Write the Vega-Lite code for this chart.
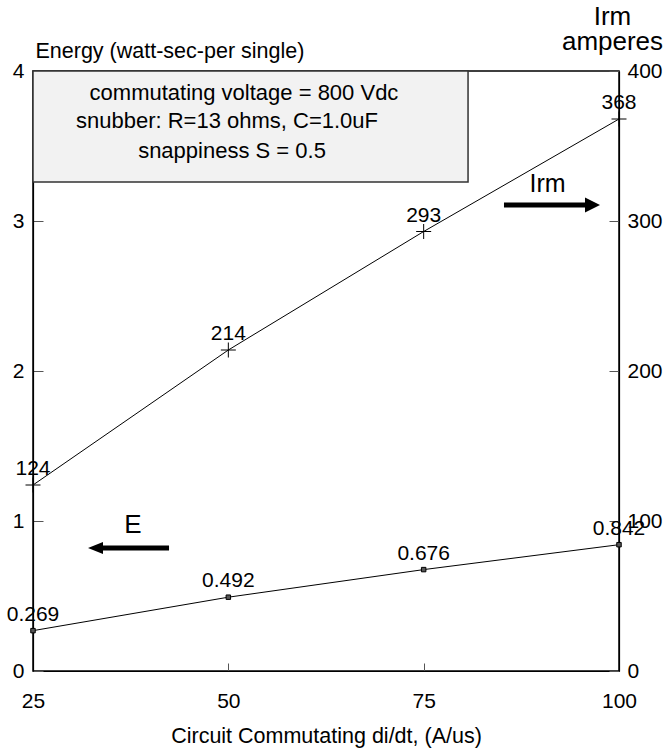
{
  "$schema": "https://vega.github.io/schema/vega-lite/v6.json",
  "width": 586,
  "height": 600,
  "autosize": "none",
  "padding": {"left": 33, "top": 71, "right": 48, "bottom": 81},
  "background": "white",
  "config": {
    "font": "Liberation Sans",
    "view": {"stroke": "#000", "strokeWidth": 1.5},
    "axis": {
      "grid": false,
      "domainColor": "#000",
      "domainWidth": 1.2,
      "tickColor": "#555",
      "labelColor": "#000",
      "titleColor": "#000",
      "labelFont": "Liberation Sans",
      "titleFont": "Liberation Sans",
      "labelFontSize": 21,
      "titleFontWeight": "normal",
      "labelFlush": false,
      "labelOverlap": false
    }
  },
  "datasets": {
    "energy": [
      {"x": 25, "y": 0.269},
      {"x": 50, "y": 0.492},
      {"x": 75, "y": 0.676},
      {"x": 100, "y": 0.842}
    ],
    "irm": [
      {"x": 25, "irm": 124},
      {"x": 50, "irm": 214},
      {"x": 75, "irm": 293},
      {"x": 100, "irm": 368}
    ],
    "notes": [
      {"x": 52.0, "y": 3.807, "text": "commutating voltage = 800 Vdc"},
      {"x": 49.83, "y": 3.62, "text": "snubber: R=13 ohms, C=1.0uF"},
      {"x": 50.47, "y": 3.42, "text": "snappiness S = 0.5"}
    ]
  },
  "encoding": {
    "x": {
      "field": "x",
      "type": "quantitative",
      "scale": {"domain": [25, 100], "nice": false, "zero": false},
      "axis": {
        "orient": "bottom",
        "values": [25, 50, 75, 100],
        "tickSize": -8,
        "labelPadding": 27,
        "title": "Circuit Commutating di/dt, (A/us)",
        "titleFontSize": 21.5,
        "titlePadding": 14
      }
    }
  },
  "layer": [
    {
      "encoding": {
        "y": {
          "field": "y",
          "type": "quantitative",
          "scale": {"domain": [0, 4], "nice": false},
          "axis": {
            "orient": "left",
            "values": [0, 1, 2, 3, 4],
            "tickSize": -10,
            "labelPadding": 19,
            "title": "Energy (watt-sec-per single)",
            "titleFontSize": 21.5,
            "titleAngle": 0,
            "titleAlign": "left",
            "titleBaseline": "alphabetic",
            "titleX": 2,
            "titleY": -14
          }
        }
      },
      "layer": [
        {
          "data": {"values": [{"x": 25, "x2": 80.68, "y": 3.26, "y2": 4}]},
          "mark": {"type": "rect", "fill": "#f2f2f2", "stroke": "#333", "strokeWidth": 1.5},
          "encoding": {"x2": {"field": "x2"}, "y2": {"field": "y2"}}
        },
        {
          "data": {"name": "notes"},
          "mark": {"type": "text", "fontSize": 22, "align": "center", "baseline": "alphabetic", "color": "#000"},
          "encoding": {"text": {"field": "text"}}
        },
        {
          "data": {"name": "energy"},
          "mark": {"type": "line", "color": "#000", "strokeWidth": 1}
        },
        {
          "data": {"name": "energy"},
          "mark": {"type": "point", "shape": "square", "filled": true, "fill": "#555", "stroke": "#000", "strokeWidth": 1, "size": 20, "opacity": 1}
        },
        {
          "data": {"name": "energy"},
          "mark": {"type": "text", "fontSize": 21, "align": "center", "baseline": "alphabetic", "dy": -10, "color": "#000"},
          "encoding": {"text": {"field": "y", "type": "quantitative", "format": ".3f"}}
        },
        {
          "data": {"values": [{"x": 42.41, "x2": 33.58, "y": 0.82}, {"x": 85.28, "x2": 96.03, "y": 3.107}]},
          "mark": {"type": "rule", "color": "#000", "strokeWidth": 5},
          "encoding": {"x2": {"field": "x2"}}
        },
        {
          "data": {"values": [{"x": 33.0, "y": 0.82}]},
          "mark": {"type": "point", "shape": "M-1,0L1,-0.8L1,0.8Z", "filled": true, "color": "#000", "size": 225, "opacity": 1}
        },
        {
          "data": {"values": [{"x": 96.61, "y": 3.107}]},
          "mark": {"type": "point", "shape": "M1,0L-1,-1L-1,1Z", "filled": true, "color": "#000", "size": 225, "opacity": 1}
        },
        {
          "data": {"values": [{"x": 37.8, "y": 0.92, "label": "E"}]},
          "mark": {"type": "text", "fontSize": 26, "align": "center", "baseline": "alphabetic", "color": "#000"},
          "encoding": {"text": {"field": "label"}}
        },
        {
          "data": {"values": [{"x": 90.85, "y": 3.193, "label": "Irm"}]},
          "mark": {"type": "text", "fontSize": 25, "align": "center", "baseline": "alphabetic", "color": "#000"},
          "encoding": {"text": {"field": "label"}}
        }
      ]
    },
    {
      "data": {"name": "irm"},
      "encoding": {
        "y": {
          "field": "irm",
          "type": "quantitative",
          "scale": {"domain": [0, 400], "nice": false},
          "axis": {
            "orient": "right",
            "values": [0, 100, 200, 300, 400],
            "tickSize": -10,
            "labelPadding": 18,
            "title": ["Irm", "amperes"],
            "titleFontSize": 26,
            "titleLineHeight": 25,
            "titleAngle": 0,
            "titleAlign": "center",
            "titleBaseline": "alphabetic",
            "titleX": -7,
            "titleY": -47
          }
        }
      },
      "layer": [
        {"mark": {"type": "line", "color": "#000", "strokeWidth": 1}},
        {"mark": {"type": "point", "shape": "M-1,0H1M0,-1V1", "filled": false, "stroke": "#000", "strokeWidth": 1, "size": 225, "opacity": 1}},
        {
          "mark": {"type": "text", "fontSize": 21, "align": "center", "baseline": "alphabetic", "dy": -10, "color": "#000"},
          "encoding": {"text": {"field": "irm", "type": "quantitative", "format": "d"}}
        }
      ]
    }
  ],
  "resolve": {"scale": {"y": "independent"}}
}
